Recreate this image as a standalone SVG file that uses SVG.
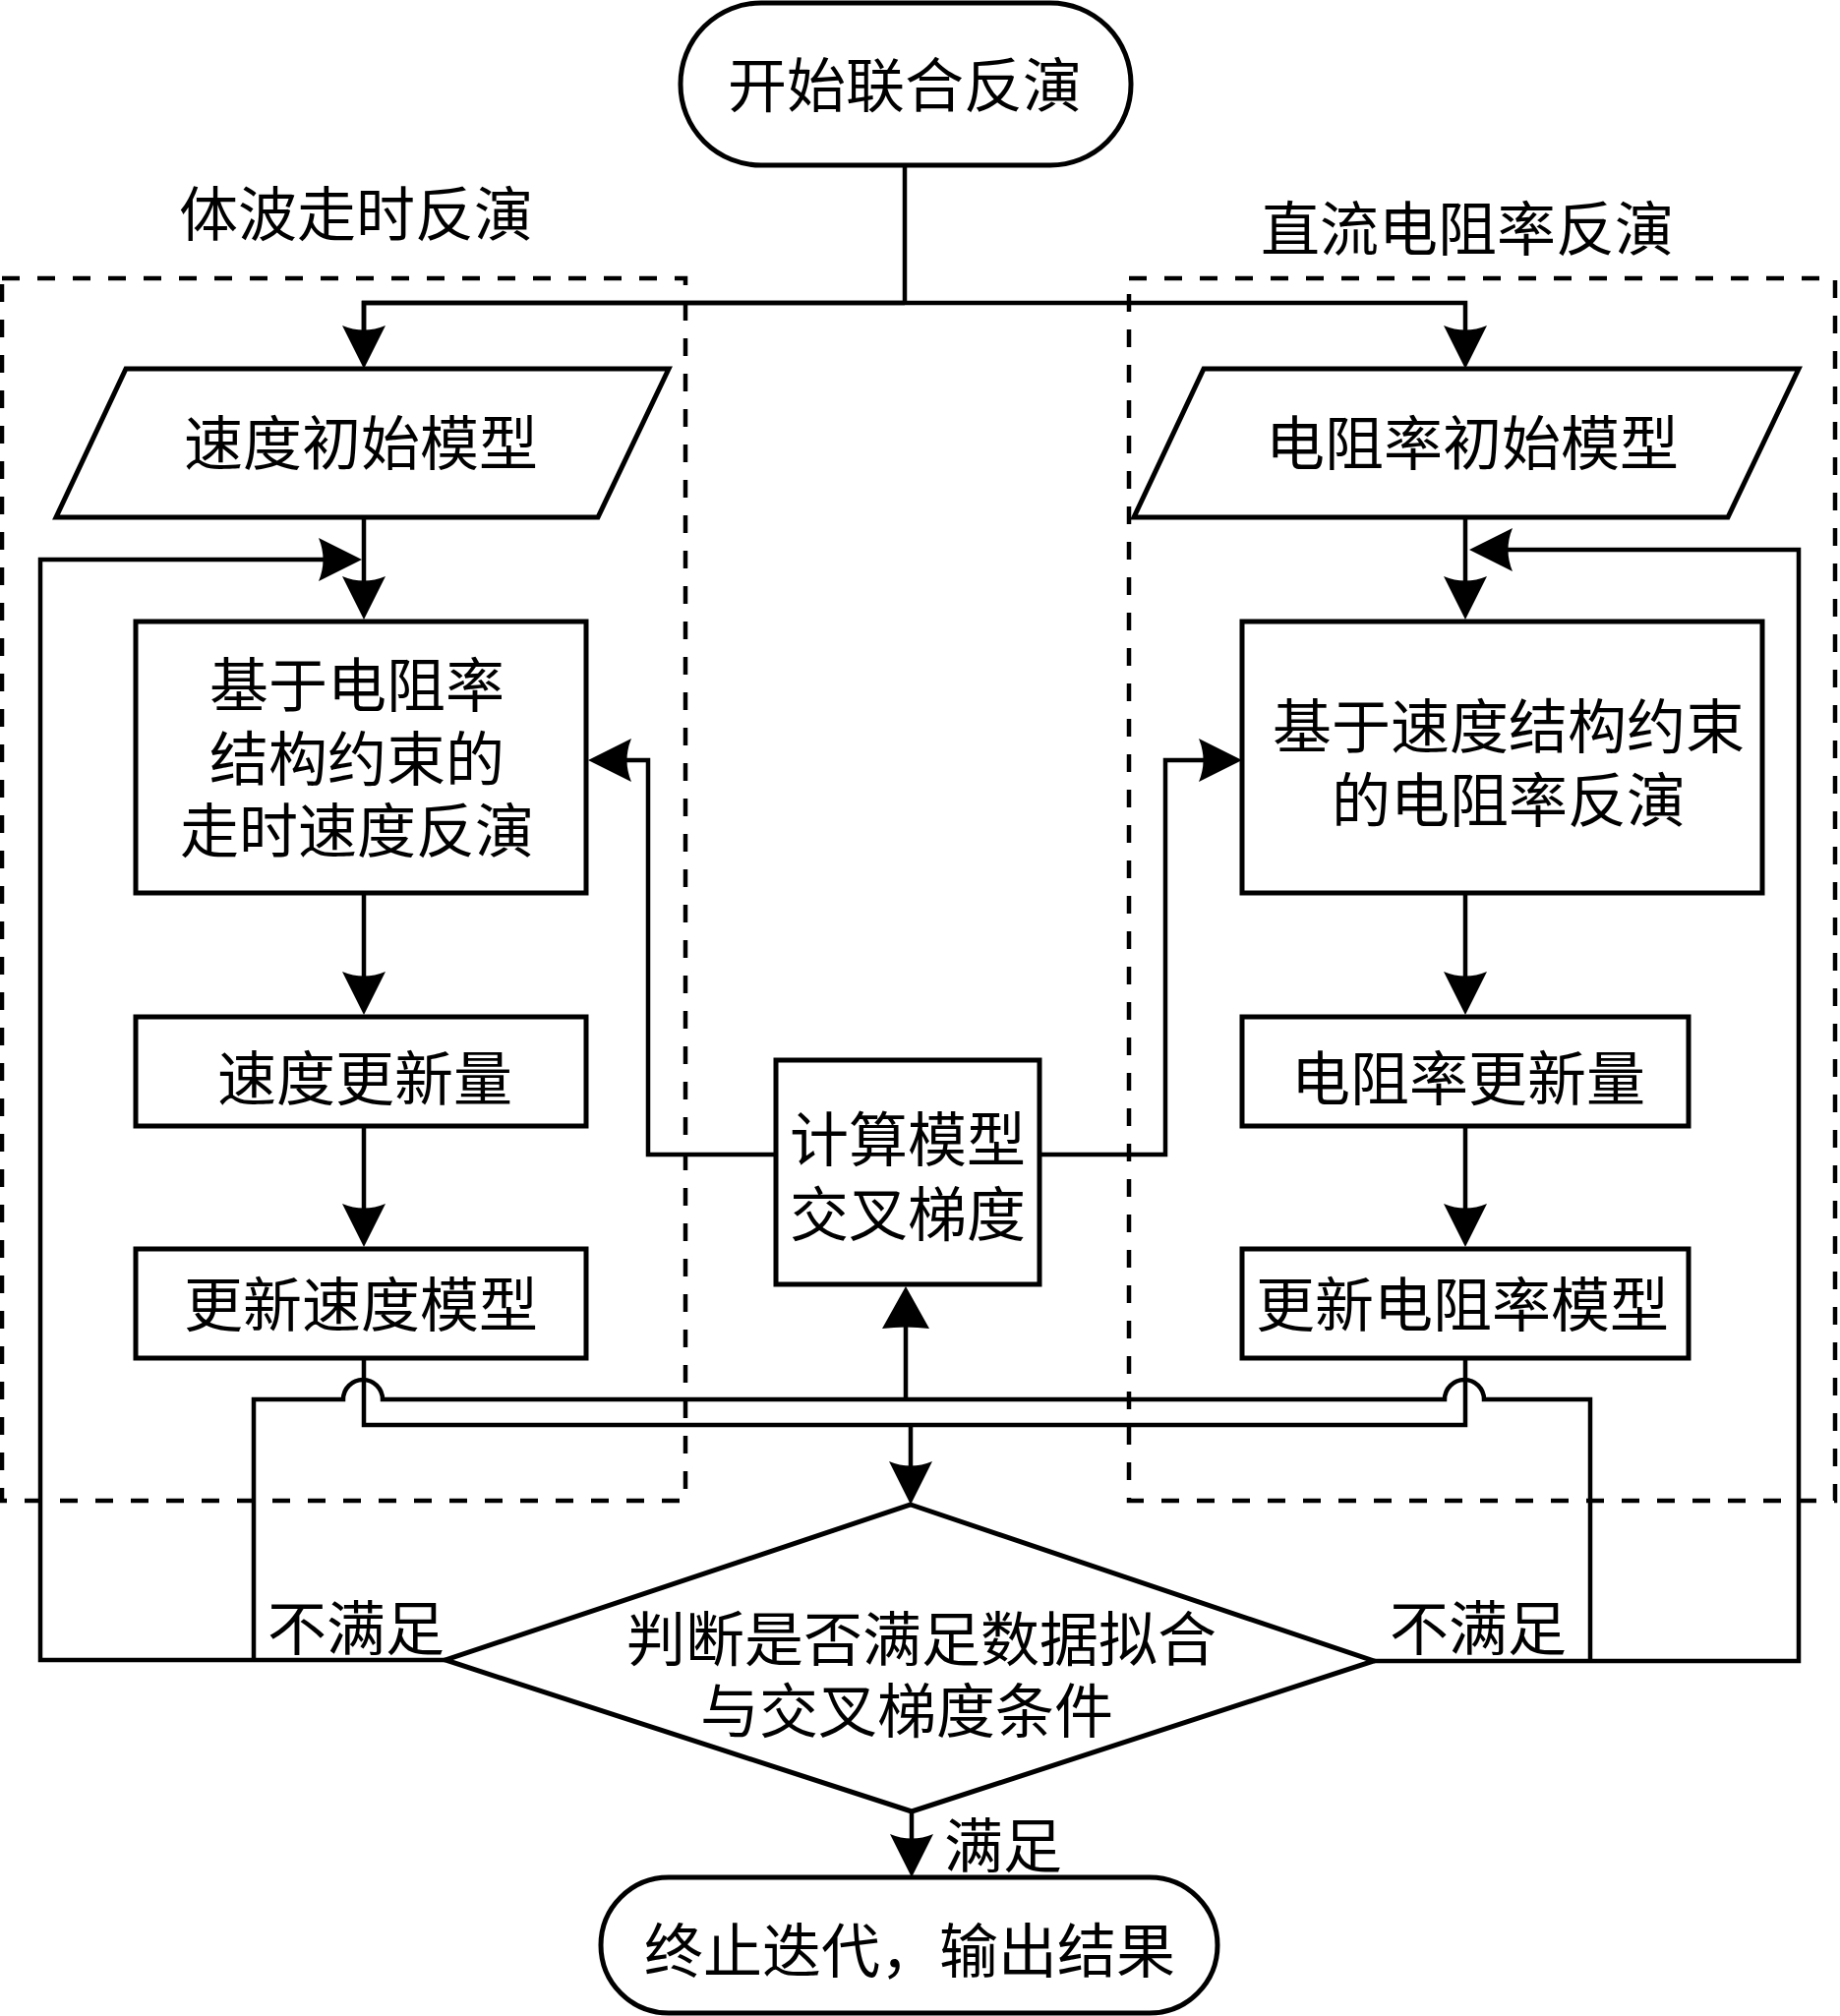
<svg xmlns="http://www.w3.org/2000/svg" width="1871" height="2050" viewBox="0 0 1871 2050">
<style>
.shape{fill:#fff;stroke:#000;stroke-width:5;stroke-linejoin:miter}
.dash{fill:none;stroke:#000;stroke-width:4.5;stroke-dasharray:18 18}
.ln{fill:none;stroke:#000;stroke-width:4.5;stroke-linejoin:miter}
.t{font-family:"Noto Sans CJK SC","Noto Sans CJK JP",sans-serif;font-size:60px;fill:#000;text-anchor:middle;dominant-baseline:central}
</style>
<defs>
<marker id="ah" markerUnits="userSpaceOnUse" orient="auto" viewBox="-40 -26 54 52" markerWidth="54" markerHeight="52" refX="0" refY="0" overflow="visible">
<path d="M10,0 L-34,-22 Q-25,0 -34,22 Z" fill="#000"/>
</marker>
<marker id="ah2" markerUnits="userSpaceOnUse" orient="auto" viewBox="-40 -26 54 52" markerWidth="54" markerHeight="52" refX="0" refY="0" overflow="visible">
<path d="M10,0 L-33,-24 Q-30,0 -33,24 Z" fill="#000"/>
</marker>
</defs>
<rect x="0" y="0" width="1871" height="2050" fill="#fff"/>

<g id="group-left">
<rect class="dash" x="2" y="283" width="695" height="1243"/>
<text class="t" x="362" y="213" font-size="61">体波走时反演</text>
</g>
<g id="group-right">
<rect class="dash" x="1148" y="283" width="718" height="1243"/>
<text class="t" x="1492" y="228" font-size="61">直流电阻率反演</text>
</g>

<g id="connectors">
<path class="ln" d="M920,168 V308"/>
<path class="ln" d="M370,365 V308 H1490 V365" marker-end="url(#ah)"/>
<path class="ln" d="M920,308 H370 V365" marker-end="url(#ah)"/>
<path class="ln" d="M370,526 V620" marker-end="url(#ah)"/>
<path class="ln" d="M1490,526 V620" marker-end="url(#ah)"/>
<path class="ln" d="M453,1688 H41 V569 H358" marker-end="url(#ah)"/>
<path class="ln" d="M1397,1689 H1829 V559 H1504" marker-end="url(#ah)"/>
<path class="ln" d="M370,908 V1022" marker-end="url(#ah)"/>
<path class="ln" d="M370,1145 V1258" marker-end="url(#ah)"/>
<path class="ln" d="M1490,908 V1022" marker-end="url(#ah)"/>
<path class="ln" d="M1490,1145 V1258" marker-end="url(#ah)"/>
<path class="ln" d="M789,1174 H659 V773 H608" marker-end="url(#ah)"/>
<path class="ln" d="M1057,1174 H1185 V773 H1253" marker-end="url(#ah)"/>
<path class="ln" d="M258,1688 V1423 H349 A20,20 0 0 1 389,1423 H1469 A20,20 0 0 1 1509,1423 H1617 V1689"/>
<path class="ln" d="M921,1423 V1318" marker-end="url(#ah2)"/>
<path class="ln" d="M370,1381 V1449 H1490 V1381"/>
<path class="ln" d="M926,1449 V1520" marker-end="url(#ah)"/>
<path class="ln" d="M927,1842 V1899" marker-end="url(#ah)"/>
<text class="t" x="362" y="1651">不满足</text>
<text class="t" x="1503" y="1651">不满足</text>
<text class="t" x="1020" y="1872">满足</text>
</g>

<g id="start">
<rect class="shape" x="692" y="3" width="458" height="165" rx="82" ry="82"/>
<text class="t" x="920" y="82" font-size="61">开始联合反演</text>
</g>
<g id="vel-init">
<polygon class="shape" points="128,375 680,375 608,526 57,526"/>
<text class="t" x="367" y="446">速度初始模型</text>
</g>
<g id="res-init">
<polygon class="shape" points="1224,375 1829,375 1757,526 1153,526"/>
<text class="t" x="1497" y="446">电阻率初始模型</text>
</g>
<g id="vel-inv">
<rect class="shape" x="138" y="632" width="458" height="276"/>
<text class="t" x="363" y="692">基于电阻率</text>
<text class="t" x="363" y="767">结构约束的</text>
<text class="t" x="363" y="840">走时速度反演</text>
</g>
<g id="res-inv">
<rect class="shape" x="1263" y="632" width="529" height="276"/>
<text class="t" x="1534" y="734">基于速度结构约束</text>
<text class="t" x="1534" y="809">的电阻率反演</text>
</g>
<g id="vel-update">
<rect class="shape" x="138" y="1034" width="458" height="111"/>
<text class="t" x="371" y="1092">速度更新量</text>
</g>
<g id="res-update">
<rect class="shape" x="1263" y="1034" width="454" height="111"/>
<text class="t" x="1493" y="1092">电阻率更新量</text>
</g>
<g id="vel-model">
<rect class="shape" x="138" y="1270" width="458" height="111"/>
<text class="t" x="367" y="1322">更新速度模型</text>
</g>
<g id="res-model">
<rect class="shape" x="1263" y="1270" width="454" height="111"/>
<text class="t" x="1487" y="1322">更新电阻率模型</text>
</g>
<g id="cross-gradient">
<rect class="shape" x="789" y="1078" width="268" height="228"/>
<text class="t" x="923" y="1154">计算模型</text>
<text class="t" x="923" y="1230">交叉梯度</text>
</g>
<g id="decision">
<polygon class="shape" points="926,1530 1397,1689 927,1842 453,1688"/>
<text class="t" x="937" y="1662">判断是否满足数据拟合</text>
<text class="t" x="922" y="1735">与交叉梯度条件</text>
</g>
<g id="end">
<rect class="shape" x="611" y="1909" width="627" height="138" rx="69" ry="69"/>
<text class="t" x="925" y="1979" font-size="61">终止迭代，输出结果</text>
</g>
</svg>
